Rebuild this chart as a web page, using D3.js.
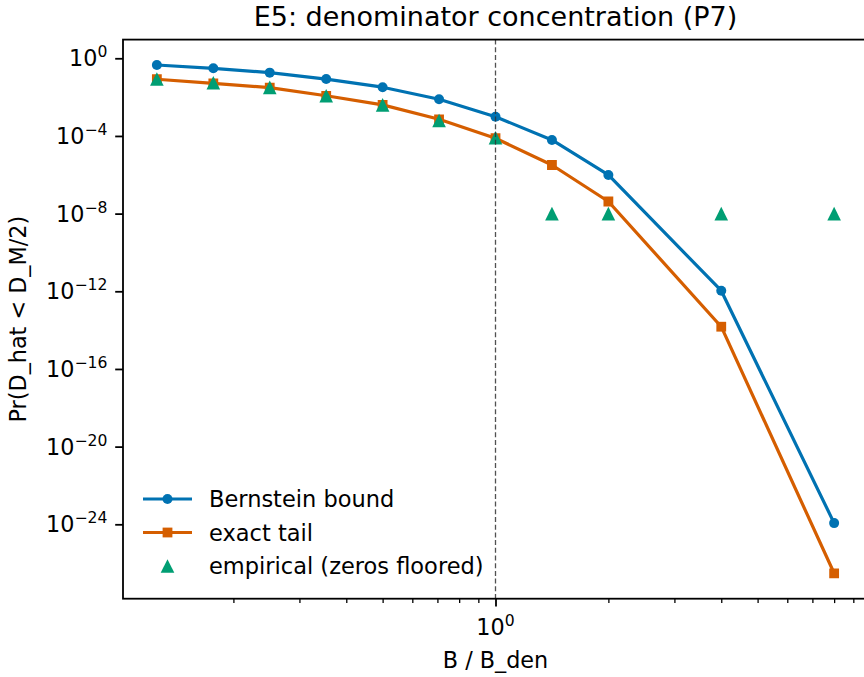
<!DOCTYPE html>
<html>
<head>
<meta charset="utf-8">
<script src="https://cdn.jsdelivr.net/npm/d3@7"></script>
<style>
  html, body { margin: 0; padding: 0; background: #fff; }
  svg { display: block; }
  text { font-family: "DejaVu Sans", sans-serif; fill: #000; }
</style>
</head>
<body>
<svg id="chart" width="864" height="677"></svg>
<script>
// ---- data ----
const xValues = [0.125, 0.1768, 0.25, 0.3536, 0.5, 0.7071, 1, 1.4142, 2, 4, 8];
const bernsteinBound = [0.45, 0.305, 0.182, 0.085, 0.0324, 0.0078, 9.8e-4, 6.2e-5, 9.8e-7, 1.07e-12, 1.15e-24];
const exactTail = [0.083, 0.051, 0.031, 0.0117, 0.0040, 7.2e-4, 7.6e-5, 3.2e-6, 4.2e-8, 1.5e-14, 3.0e-27];
const empirical = [0.085, 0.055, 0.0316, 0.0117, 0.0040, 6.2e-4, 8.1e-5, 1e-8, 1e-8, 1e-8, 1e-8];
const yTickExponents = [0, -4, -8, -12, -16, -20, -24];
const xTickExponents = [0];
const xMinorTicks = [0.2, 0.3, 0.4, 0.5, 0.6, 0.7, 0.8, 0.9, 2, 3, 4, 5, 6, 7, 8, 9];
const legendLabels = ["Bernstein bound", "exact tail", "empirical (zeros floored)"];
const titleText = "E5: denominator concentration (P7)";
const xLabel = "B / B_den";
const yLabel = "Pr(D_hat < D_M/2)";
const refLine = 1;

// ---- layout ----
const C = { blue: "#0072B2", orange: "#D55E00", green: "#009E73" };
const L = 123, R = 868, T = 39.6, B = 598.7;
const FS = 22.3;

const svg = d3.select("#chart");
svg.append("rect").attr("width", 864).attr("height", 677).attr("fill", "#fff");

function paddedLogDomain(vals) {
  const lo = Math.log10(d3.min(vals)), hi = Math.log10(d3.max(vals));
  const p = (hi - lo) * 0.05;
  return [Math.pow(10, lo - p), Math.pow(10, hi + p)];
}
const x = d3.scaleLog().domain(paddedLogDomain(xValues)).range([L, R]);
const y = d3.scaleLog().domain(paddedLogDomain(bernsteinBound.concat(exactTail, empirical))).range([B, T]);

const clipId = "plotclip";
svg.append("clipPath").attr("id", clipId).append("rect")
  .attr("x", L).attr("y", T).attr("width", R - L).attr("height", B - T);

// ---- ticks ----
const tickLen = 7.8, tickW = 1.8, pad = 7.8;
const yAxisG = svg.append("g").attr("transform", `translate(${L},0)`);
const yAx = d3.axisLeft(y).tickValues(yTickExponents.map(e => Math.pow(10, e)))
  .tickSize(tickLen).tickFormat("");
yAxisG.call(yAx);
yAxisG.select(".domain").remove();
yAxisG.selectAll(".tick line").attr("stroke", "#000").attr("stroke-width", tickW);

yTickExponents.forEach(e => {
  const t = svg.append("text")
    .attr("x", L - tickLen - pad)
    .attr("y", y(Math.pow(10, e)) + 8)
    .attr("text-anchor", "end")
    .style("font-size", FS + "px");
  t.append("tspan").text("10");
  t.append("tspan").attr("dy", -9).style("font-size", (FS * 0.7) + "px")
    .text(e === 0 ? "0" : "\u2212" + Math.abs(e));
});

const xAxisG = svg.append("g").attr("transform", `translate(0,${B})`);
xAxisG.call(d3.axisBottom(x).tickValues(xTickExponents.map(e => Math.pow(10, e))).tickSize(tickLen).tickFormat(""));
xAxisG.select(".domain").remove();
xAxisG.selectAll(".tick line").attr("stroke", "#000").attr("stroke-width", tickW);

const xMinorG = svg.append("g").attr("transform", `translate(0,${B})`);
xMinorG.call(d3.axisBottom(x).tickValues(xMinorTicks).tickSize(4.4).tickFormat(""));
xMinorG.select(".domain").remove();
xMinorG.selectAll(".tick line").attr("stroke", "#000").attr("stroke-width", 1.3);

xTickExponents.forEach(e => {
  const t = svg.append("text")
    .attr("x", x(Math.pow(10, e)))
    .attr("y", 635)
    .attr("text-anchor", "middle")
    .style("font-size", FS + "px");
  t.append("tspan").text("10");
  t.append("tspan").attr("dy", -9).style("font-size", (FS * 0.7) + "px")
    .text(e === 0 ? "0" : "\u2212" + Math.abs(e));
});

// ---- series ----
const plot = svg.append("g").attr("clip-path", `url(#${clipId})`);
const line = d3.line().x(d => x(d[0])).y(d => y(d[1]));

function drawSeries(vals, color, shape) {
  const pts = xValues.map((v, i) => [v, vals[i]]);
  plot.append("path").datum(pts).attr("d", line)
    .attr("fill", "none").attr("stroke", color).attr("stroke-width", 3.2)
    .attr("stroke-linejoin", "round");
  plot.selectAll(null).data(pts).enter().append("path")
    .attr("transform", d => `translate(${x(d[0])},${y(d[1])})`)
    .attr("d", shape).attr("fill", color);
}
const circlePath = d3.symbol().type(d3.symbolCircle).size(Math.PI * 5 * 5)();
const squarePath = d3.symbol().type(d3.symbolSquare).size(9.8 * 9.8)();
const triPath = "M0,-6.8L6.8,6.8L-6.8,6.8Z";

drawSeries(bernsteinBound, C.blue, circlePath);
drawSeries(exactTail, C.orange, squarePath);
plot.selectAll(null).data(xValues.map((v, i) => [v, empirical[i]])).enter().append("path")
  .attr("transform", d => `translate(${x(d[0])},${y(d[1])})`)
  .attr("d", triPath).attr("fill", C.green);

// reference line
svg.append("line")
  .attr("x1", x(refLine)).attr("x2", x(refLine)).attr("y1", T).attr("y2", B)
  .attr("stroke", "#333").attr("stroke-opacity", 0.85).attr("stroke-width", 1.3)
  .attr("stroke-dasharray", "5,2.7");

// ---- spines ----
svg.append("rect").attr("x", L).attr("y", T).attr("width", R - L).attr("height", B - T)
  .attr("fill", "none").attr("stroke", "#000").attr("stroke-width", 1.8);

// ---- legend ----
const legRows = [499, 532.5, 566];
const legShapes = [circlePath, squarePath, triPath];
const legColors = [C.blue, C.orange, C.green];
legendLabels.forEach((lab, i) => {
  const cy = legRows[i];
  if (i < 2) {
    svg.append("line").attr("x1", 143).attr("x2", 192).attr("y1", cy).attr("y2", cy)
      .attr("stroke", legColors[i]).attr("stroke-width", 3.2);
  }
  svg.append("path").attr("transform", `translate(167.5,${cy})`).attr("d", legShapes[i]).attr("fill", legColors[i]);
  svg.append("text").attr("x", 209).attr("y", cy + 8).style("font-size", "22.5px").text(lab);
});

// ---- labels ----
svg.append("text").attr("x", (L + R) / 2).attr("y", 26).attr("text-anchor", "middle")
  .style("font-size", "27px").text(titleText);
svg.append("text").attr("x", (L + R) / 2).attr("y", 668).attr("text-anchor", "middle")
  .style("font-size", FS + "px").text(xLabel);
svg.append("text").attr("transform", `translate(26,${(T + B) / 2}) rotate(-90)`)
  .attr("text-anchor", "middle").style("font-size", FS + "px").text(yLabel);
</script>
</body>
</html>
